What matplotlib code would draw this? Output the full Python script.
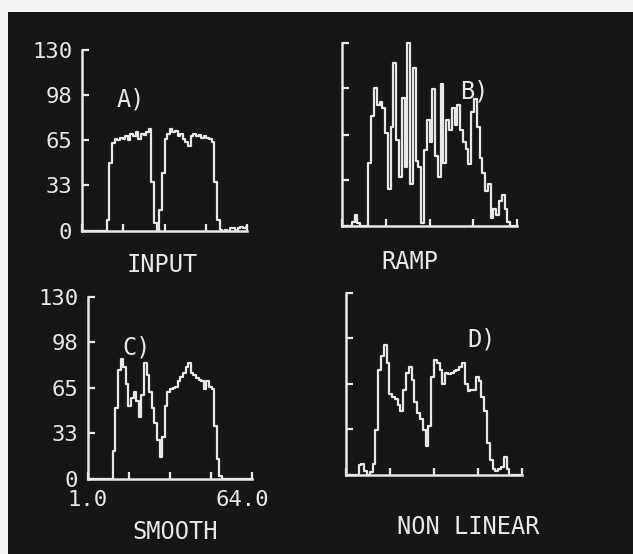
import numpy as np
import matplotlib
matplotlib.use('Agg')
import matplotlib.pyplot as plt
from matplotlib.patches import Rectangle

# channel index 1..64
channels = np.arange(1, 65)

# A) input profile
input_vals = [0, 0, 0, 0, 0, 0, 0, 0, 0, 0,
              8, 49, 63, 66, 65, 67, 66, 68, 65, 70,
              68, 71, 66, 70, 69, 71, 73, 35, 6, 0,
              15, 42, 66, 70, 73, 71, 72, 68, 70, 66,
              64, 61, 68, 70, 68, 69, 67, 68, 67, 66,
              64, 35, 8, 1, 0, 1, 0, 2, 2, 1,
              2, 3, 2, 3]

# B) ramp filtered
ramp_vals = [0, 0, 0, 0, 3, 8, 2, 0, 0, 0,
             45, 78, 98, 86, 88, 84, 66, 26, 70, 116,
             61, 35, 91, 42, 130, 30, 112, 46, 42, 2,
             54, 75, 60, 97, 50, 35, 101, 45, 75, 68,
             84, 72, 86, 68, 60, 55, 44, 81, 90, 70,
             48, 38, 25, 30, 6, 12, 8, 18, 22, 12,
             3, 0, 0, 0]

# C) smooth filtered
smooth_vals = [0, 0, 0, 0, 0, 0, 0, 0, 0, 0,
               20, 51, 78, 86, 80, 68, 52, 58, 62, 56,
               44, 60, 83, 74, 62, 51, 40, 28, 16, 30,
               52, 62, 64, 65, 66, 70, 73, 76, 80, 83,
               76, 74, 72, 71, 70, 64, 70, 66, 64, 38,
               14, 2, 0, 0, 0, 0, 0, 0, 0, 0,
               0, 0, 0, 0]

# D) non linear filtered
nonlin_vals = [0, 0, 0, 0, 0, 7, 8, 3, 0, 2,
               8, 32, 75, 85, 93, 80, 58, 56, 54, 50,
               46, 61, 73, 77, 68, 52, 44, 40, 32, 21,
               35, 70, 82, 80, 75, 65, 73, 72, 73, 74,
               75, 77, 80, 65, 60, 61, 61, 70, 67, 56,
               46, 23, 11, 4, 3, 4, 6, 13, 4, 0,
               0, 0, 0, 0]

y_ticks = [0, 33, 65, 98, 130]
y_labels = ['0', '33', '65', '98', '130']

W, H = 633, 554
fg = '#e8e8e8'
bg = '#161616'
mono = 'DejaVu Sans Mono'

fig = plt.figure(figsize=(W / 100, H / 100), dpi=100)
fig.patch.set_facecolor('#f4f4f4')
fig.patches.append(Rectangle((8 / W, 0), 1, 1 - 12 / H, transform=fig.transFigure,
                             facecolor=bg, edgecolor='none', zorder=-10))


def px_axes(x0, y0, x1, y1):
    # axes box given in image pixels (top-left origin)
    return fig.add_axes([x0 / W, 1 - y1 / H, (x1 - x0) / W, (y1 - y0) / H])


def panel(ax, vals, show_labels):
    ax.set_facecolor('none')
    ax.plot(channels, vals, drawstyle='steps-mid', color=fg, lw=1.6, clip_on=False)
    ax.set_xlim(1, 64)
    ax.set_ylim(0, 130)
    for s in ['top', 'right']:
        ax.spines[s].set_visible(False)
    for s in ['left', 'bottom']:
        ax.spines[s].set_color(fg)
        ax.spines[s].set_linewidth(1.8)
    ax.set_xticks(np.linspace(1, 64, 5))
    ax.set_xticklabels([])
    ax.set_yticks(y_ticks)
    if show_labels:
        ax.set_yticklabels(y_labels, family=mono, fontsize=16, color=fg)
    else:
        ax.set_yticklabels([])
    ax.tick_params(direction='in', length=5, width=1.6, color=fg, pad=7)


ax_a = px_axes(82, 50, 247, 231)
panel(ax_a, input_vals, True)
ax_b = px_axes(342, 43, 517, 226)
panel(ax_b, ramp_vals, False)
ax_c = px_axes(88, 297, 252, 479)
panel(ax_c, smooth_vals, True)
ax_d = px_axes(346, 293, 522, 475)
panel(ax_d, nonlin_vals, False)


def label(x, y, s, size=17):
    fig.text(x / W, 1 - y / H, s, family=mono, fontsize=size, color=fg,
             ha='center', va='center')


label(131, 100, 'A)')
label(474, 92, 'B)')
label(137, 347, 'C)')
label(482, 340, 'D)')
label(162, 265, 'INPUT')
label(410, 262, 'RAMP')
label(175, 532, 'SMOOTH')
label(468, 527, 'NON LINEAR')
label(87, 500, '1.0', 16)
label(242, 500, '64.0', 16)

fig.savefig('out.png', dpi=100, facecolor=fig.get_facecolor())
